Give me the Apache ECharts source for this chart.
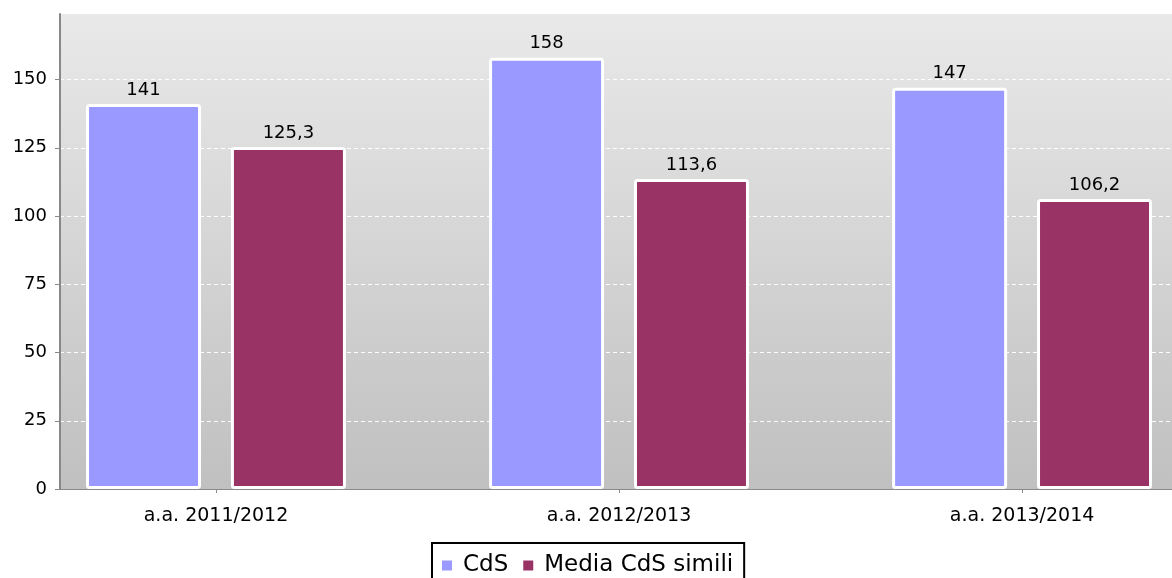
<!DOCTYPE html>
<html>
<head>
<meta charset="utf-8">
<script src="https://cdn.jsdelivr.net/npm/echarts@6/dist/echarts.min.js"></script>
<style>
html,body{margin:0;padding:0;background:#fff;}
#chart{width:1172px;height:578px;}
</style>
</head>
<body>
<div id="chart"></div>
<script>
var categories = ['a.a. 2011/2012', 'a.a. 2012/2013', 'a.a. 2013/2014'];
var seriesNames = ['CdS', 'Media CdS simili'];
var cdsValues = [141, 158, 147];
var mediaValues = [125.3, 113.6, 106.2];
var yTicks = [0, 25, 50, 75, 100, 125, 150];

var FONT = 'DejaVu Sans';
function pairs(vals) { return vals.map(function (v, i) { return [i, v]; }); }
function fmt(v) { return String(v).replace('.', ','); }
var catIdx = categories.map(function (c, i) { return i; });

var chart = echarts.init(document.getElementById('chart'), null, { renderer: 'canvas' });
chart.setOption({
  animation: false,
  textStyle: { fontFamily: FONT },
  grid: {
    left: 60, right: 0, top: 14, bottom: 89,
    show: true, borderWidth: 0,
    backgroundColor: new echarts.graphic.LinearGradient(0, 0, 0, 1, [
      { offset: 0, color: '#e9e9e9' },
      { offset: 1, color: '#c0c0c0' }
    ])
  },
  legend: {
    data: seriesNames,
    left: 432, top: 543,
    orient: 'horizontal',
    icon: 'rect',
    itemWidth: 12, itemHeight: 12,
    itemGap: 13,
    padding: [11, 11, 11, 8],
    borderColor: '#000', borderWidth: 2,
    backgroundColor: '#fff',
    textStyle: { fontFamily: FONT, fontSize: 23, color: '#000', padding: [0, 0, 0, 5] }
  },
  xAxis: {
    type: 'value',
    min: -0.387, max: 2.372,
    splitLine: { show: false },
    axisLine: { show: true, onZero: false, lineStyle: { color: '#8a8a8a', width: 1 } },
    axisTick: { show: true, customValues: catIdx, length: 4, lineStyle: { color: '#8a8a8a' } },
    axisLabel: {
      customValues: catIdx,
      margin: 18,
      fontFamily: FONT, fontSize: 19, color: '#000',
      formatter: function (v) { return categories[Math.round(v)]; }
    }
  },
  yAxis: {
    type: 'value',
    min: 0, max: 174, interval: 25,
    axisLine: { show: true, onZero: false, lineStyle: { color: '#888', width: 2 } },
    axisTick: { show: true, length: 5, lineStyle: { color: '#888', width: 1 } },
    axisLabel: { margin: 13, fontFamily: FONT, fontSize: 18, color: '#000', showMaxLabel: false,
      formatter: function (v) { return yTicks.indexOf(v) >= 0 ? String(v) : ''; } },
    splitLine: { show: true, showMaxLine: false, lineStyle: { color: '#ffffff', type: [4, 3], width: 1 } }
  },
  series: [
    {
      name: seriesNames[0], type: 'bar',
      data: pairs(cdsValues),
      barWidth: 115, barGap: '26%',
      itemStyle: { color: '#9999ff', borderColor: '#ffffff', borderWidth: 3, borderRadius: 2 },
      label: { show: true, position: 'top', distance: 5, fontFamily: FONT, fontSize: 18, color: '#000',
        formatter: function (p) { return fmt(p.value[1]); } }
    },
    {
      name: seriesNames[1], type: 'bar',
      data: pairs(mediaValues),
      barWidth: 115, barGap: '26%',
      itemStyle: { color: '#993366', borderColor: '#ffffff', borderWidth: 3, borderRadius: 2 },
      label: { show: true, position: 'top', distance: 5, fontFamily: FONT, fontSize: 18, color: '#000',
        formatter: function (p) { return fmt(p.value[1]); } }
    }
  ]
});
</script>
</body>
</html>
